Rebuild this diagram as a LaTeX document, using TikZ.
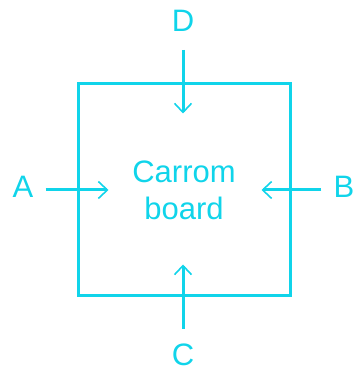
\documentclass[tikz,border=0pt]{standalone}
\usepackage{fontspec}
\setmainfont{Liberation Sans}
\usetikzlibrary{arrows.meta, positioning, calc}
\definecolor{boardcyan}{HTML}{10D4EA}

\begin{document}
\begin{tikzpicture}[
    x=1pt, y=1pt,
    lbl/.style={text=boardcyan, inner sep=0pt, font=\fontsize{31}{37}\selectfont},
    push/.style={boardcyan, line width=3pt,
                 -{Straight Barb[length=9pt, width=17pt, line width=1.6pt]}},
]
    \useasboundingbox (0,0) rectangle (355,373);

    \node[draw=boardcyan, line width=3pt, minimum size=212pt, inner sep=0pt,
          lbl, align=center] (board) at (184,183) {Carrom\\board};

    \node[lbl] (A) at (23,186) {A};
    \node[lbl] (B) at (344,186) {B};
    \node[lbl] (C) at (183,18) {C};
    \node[lbl] (D) at (183,352) {D};

    \coordinate (tipA) at ([xshift=32pt]board.west);
    \coordinate (tipB) at ([xshift=-30pt]board.east);
    \coordinate (tipC) at ([yshift=33pt]board.south -| C);
    \coordinate (tipD) at ([yshift=-31pt]board.north -| D);

    \draw[push] ([xshift=12pt]A.east |- board.center) -- (tipA |- board.center);
    \draw[push] ([xshift=-12pt]B.west |- board.center) -- (tipB |- board.center);
    \draw[push] ([yshift=15pt]C.north) -- (tipC);
    \draw[push] ([yshift=-18pt]D.south) -- (tipD);
\end{tikzpicture}
\end{document}
